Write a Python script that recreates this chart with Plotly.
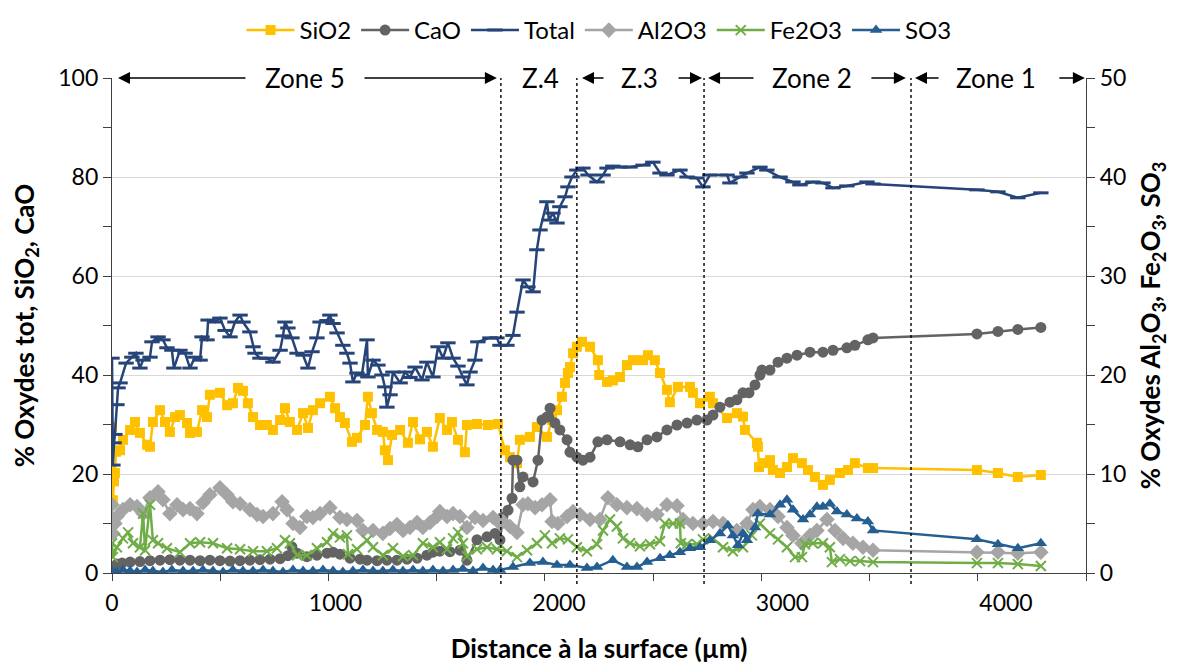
import plotly.graph_objects as go

# ---------------- data (x in µm) ----------------
total_x = [0,4,9,13,22,27,36,63,89,107,125,139,170,179,206,228,246,268,277,304,327,349,371,394,403,425,430,461,483,506,528,550,573,586,617,631,640,662,693,720,752,765,774,787,805,828,855,877,895,917,931,962,975,989,1007,1033,1051,1065,1078,1096,1118,1141,1145,1168,1190,1208,1221,1230,1244,1257,1289,1311,1333,1356,1387,1409,1436,1459,1481,1503,1526,1548,1570,1588,1602,1624,1637,1691,1722,1736,1767,1794,1812,1839,1861,1884,1901,1915,1946,1955,1973,1991,2004,2027,2040,2058,2080,2107,2130,2170,2197,2215,2241,2273,2318,2376,2420,2452,2483,2541,2573,2617,2644,2675,2752,2765,2810,2841,2899,2930,2989,3047,3078,3136,3181,3226,3288,3378,3405,3870,3964,4053,4156]
total_y = [43.4,21.8,26.3,28,34,37.4,38.4,42.4,43.6,44.4,41.4,43,43.6,46.7,47.7,47.1,45.5,45,41.4,45,44.4,41.4,43.6,43,47.7,47.1,51.1,50.7,51.5,49,47.7,50.7,52.1,50.7,48.7,45.7,44.4,43.4,43.4,42.6,45,47.9,50.7,49.5,47.5,44.4,44,41.4,44.7,47.5,50.7,51,52.1,50.4,48.5,46,44.4,42.4,38.6,40.4,40,47.1,39.6,43,42,40,37.6,33.5,36,40.6,38.4,40.6,39.5,41.6,39,42.6,39.6,45.7,43.4,46.5,43.4,41.8,39.6,38,40.6,43,46.7,47.5,47.5,46,46,48,52.7,59.2,57.8,56.8,65.3,69.3,75,71.3,72.7,70.7,74,76,78,80,81.4,81.8,80.4,79,80.4,81.8,82.2,82,82,82.4,83,80.8,80.4,81.4,80,79.8,78,80.4,80.4,78.8,80,80.8,82,81.4,80,79,78.4,79,78.8,77.8,78.2,79,78.6,77.4,77,75.8,76.8]

sio2_x = [0,4,9,13,18,36,49,81,103,125,157,170,183,215,237,259,282,304,336,349,380,403,425,438,483,515,541,564,586,608,631,662,693,720,752,774,796,828,855,877,899,931,975,998,1020,1042,1074,1096,1132,1145,1163,1186,1212,1221,1235,1253,1289,1324,1347,1378,1409,1436,1467,1499,1521,1548,1579,1588,1633,1682,1727,1758,1781,1812,1825,1870,1901,1946,1969,1991,2013,2027,2040,2049,2063,2080,2103,2139,2174,2180,2215,2241,2273,2304,2331,2376,2398,2429,2452,2483,2496,2532,2586,2599,2631,2675,2689,2752,2796,2823,2832,2886,2890,2895,2913,2944,2957,2989,3020,3047,3087,3114,3145,3181,3212,3257,3293,3324,3382,3405,3870,3964,4053,4156]
sio2_y = [29.5,14.7,18.5,20.2,24.5,24.8,26.9,28.9,30.5,28.3,25.9,25.5,30.5,32.9,30.5,28.5,31.5,31.9,30.3,28.3,28.5,32.9,31.5,36,36.4,33.9,34.3,37.4,36.8,34.3,31.5,29.9,29.9,28.9,30.9,33.3,30.5,28.9,32.3,29.3,32.9,34.3,35.6,33.3,31.5,30.3,26.5,27.3,29.9,35.6,32.3,28.9,28.5,24.8,22.8,27.9,28.9,26.3,30.5,27,28.5,25.5,31.3,28.9,30.5,26.9,24.4,29.9,30.1,29.9,30.1,24.8,23.4,22.2,26.9,27.5,29.5,27.5,30.9,32.9,35.6,38.4,40.4,41.6,44.4,45.7,46.7,45.7,43,40,38.6,38.9,39.6,42,43,43,44,43,40.4,37,34.5,37.6,37.6,36.4,34.3,35.6,34.3,31.3,32.3,31.6,28.9,26.3,25.5,21.4,22.2,22.8,20.8,20.2,21.4,23.2,22.2,20.8,19.4,17.8,18.8,20.2,20.8,22.2,21.2,21.2,20.8,20.2,19.4,19.8]

cao_x = [0,22,45,81,125,170,215,259,304,349,394,438,483,528,573,617,662,707,752,787,805,828,872,917,962,989,1020,1065,1110,1141,1186,1230,1275,1320,1365,1409,1436,1467,1512,1557,1588,1633,1678,1714,1736,1749,1772,1790,1794,1812,1825,1839,1884,1906,1924,1946,1960,1982,2004,2036,2049,2080,2107,2139,2174,2215,2273,2318,2353,2394,2438,2483,2528,2573,2617,2662,2689,2720,2765,2796,2823,2850,2877,2899,2908,2944,2980,3020,3065,3123,3181,3226,3288,3324,3382,3405,3870,3964,4053,4156]
cao_y = [1.0,1.8,2.0,2.2,2.3,2.5,2.6,2.7,2.6,2.6,2.5,2.6,2.5,2.4,2.5,2.6,2.7,2.8,2.9,3.5,5.3,4.0,3.3,3.6,4.0,4.2,3.8,3.0,2.8,2.6,2.5,2.6,2.6,2.8,3.0,3.6,4.2,4.4,4.3,4.6,2.6,6.7,7.3,8.0,6.7,11.3,12.7,15.1,22.8,22.8,17.4,19.4,18.4,22.8,30.9,31.5,33.3,30.3,28.9,26.9,24.4,23.4,22.8,23.4,26.5,26.9,26.5,25.9,25.5,26.9,27.5,28.9,29.9,30.3,30.9,30.9,31.9,33.5,34.5,35,36.4,36.4,38,40,41,41,42.6,43.4,44,44.6,44.6,45,45.5,46,47.1,47.5,48.3,48.8,49.2,49.6]

al2o3_x = [0,4,13,22,49,81,112,139,170,206,228,259,291,318,349,380,407,438,483,515,541,573,617,649,676,720,761,783,810,841,872,899,931,975,1020,1051,1096,1123,1168,1212,1244,1275,1302,1333,1365,1391,1423,1454,1467,1499,1526,1557,1588,1624,1660,1705,1736,1749,1781,1812,1839,1861,1893,1924,1960,1969,1995,2036,2063,2094,2139,2183,2219,2259,2304,2349,2394,2438,2483,2528,2555,2599,2644,2689,2734,2796,2841,2868,2899,2944,2980,3020,3047,3087,3123,3154,3199,3235,3271,3315,3360,3405,3870,3964,4053,4156]
al2o3_y = [6.9,4.0,5.0,5.7,6.4,6.9,6.7,6.0,7.6,8.2,7.4,6.0,6.9,6.4,6.5,6.0,7.1,7.9,8.6,7.9,7.2,7.0,6.4,5.9,5.7,6.0,7.2,6.4,5.0,4.6,5.7,5.6,6.0,6.6,5.6,5.4,5.3,4.3,4.3,4.0,4.5,4.9,4.3,4.6,5.1,4.6,5.1,5.7,6.2,5.7,6.0,5.7,4.6,5.6,5.3,5.6,5.0,5.2,4.7,4.1,6.9,7.0,6.6,6.9,7.4,5.2,5.0,5.7,6.2,5.9,5.4,5.4,7.6,6.9,6.6,6.5,5.9,5.9,6.9,6.8,5.4,5.0,5.0,5.2,5.0,4.3,5.0,6.4,6.7,6.4,5.7,4.6,3.8,3.0,3.8,4.3,5.4,4.3,3.5,3.0,2.6,2.3,2.1,2.1,2.0,2.1]

fe2o3_x = [0,4,22,49,72,94,125,139,148,170,183,206,246,304,349,394,452,515,573,631,693,738,774,796,828,872,917,962,989,1020,1051,1056,1096,1141,1168,1212,1257,1302,1347,1391,1436,1467,1499,1526,1548,1570,1588,1633,1678,1722,1767,1812,1857,1901,1937,1969,2004,2040,2080,2125,2170,2197,2228,2259,2286,2318,2362,2407,2452,2474,2510,2541,2545,2573,2617,2644,2689,2734,2778,2823,2863,2899,2944,2980,3020,3056,3087,3100,3136,3181,3212,3221,3257,3302,3347,3405,3870,3964,4053,4156]
fe2o3_y = [3.0,1.6,2.6,3.5,4.1,3.0,2.6,6.0,2.3,6.9,3.3,3.0,2.5,2.1,3.0,3.1,3.0,2.5,2.4,2.2,2.2,2.5,3.3,3.0,1.8,1.8,2.5,3.1,4.0,3.6,3.8,1.9,2.4,3.3,2.6,1.8,2.5,1.7,1.8,3.0,2.6,3.1,2.4,3.5,4.1,3.0,1.7,2.4,2.6,2.4,2.2,1.6,2.3,3.0,3.8,3.0,3.5,3.4,2.6,2.2,2.9,4.3,5.4,4.7,3.5,3.0,2.7,2.9,3.2,5.0,5.0,5.0,3.0,2.9,2.9,3.4,3.5,2.6,2.2,2.6,3.8,5.0,4.0,3.4,2.6,1.6,1.6,2.9,3.0,3.0,2.6,1.1,1.4,1.2,1.2,1.1,1.0,1.0,0.9,0.7]

so3_x = [0,22,49,81,112,148,183,228,268,318,363,407,452,497,541,586,631,676,720,765,810,855,899,944,989,1033,1078,1123,1168,1212,1257,1302,1347,1391,1436,1481,1526,1570,1615,1660,1705,1736,1794,1870,1928,1991,2049,2125,2170,2241,2304,2349,2394,2452,2496,2541,2586,2631,2675,2720,2756,2778,2801,2823,2841,2877,2890,2944,2989,3020,3047,3092,3123,3154,3181,3212,3244,3288,3333,3382,3405,3870,3964,4053,4156]
so3_y = [0.2,0.1,0.3,0.2,0.1,0.3,0.2,0.1,0.3,0.2,0.2,0.3,0.2,0.1,0.3,0.2,0.2,0.3,0.2,0.1,0.3,0.2,0.2,0.3,0.2,0.1,0.2,0.3,0.2,0.2,0.3,0.2,0.3,0.2,0.3,0.2,0.3,0.4,0.2,0.5,0.3,0.3,0.6,1.0,1.1,0.8,0.8,0.5,0.6,1.3,0.6,0.6,1.1,1.5,1.8,2.1,2.5,2.6,3.3,4.0,4.8,3.8,2.8,4.0,3.3,4.6,6.0,5.9,6.9,7.4,6.4,5.4,5.9,6.7,6.7,7.0,6.2,5.9,5.5,5.2,4.3,3.4,2.9,2.5,3.0]

zone_names = ["Zone 5", "Z.4", "Z.3", "Zone 2", "Zone 1"]
zone_centers = [864, 1915, 2362, 3132, 3955]
zone_bounds = [1740, 2080, 2649, 3575]
# arrows: (tail, head)
zone_arrows = [(604, 27), (1123, 1722), (2206, 2103), (2528, 2640),
               (2877, 2667), (3391, 3552), (3705, 3593), (4232, 4353)]

x_ticks = [0, 1000, 2000, 3000, 4000]

# ---------------- figure ----------------
FONT = "Lato"
AX = "#404040"
fig = go.Figure()

fig.add_trace(go.Scatter(x=sio2_x, y=sio2_y, name="SiO2", mode="lines+markers",
                         line=dict(color="#FFC000", width=2.5),
                         marker=dict(symbol="square", size=10, color="#FFC000")))
fig.add_trace(go.Scatter(x=cao_x, y=cao_y, name="CaO", mode="lines+markers",
                         line=dict(color="#636363", width=2.5),
                         marker=dict(symbol="circle", size=11, color="#636363")))
fig.add_trace(go.Scatter(x=total_x, y=total_y, name="Total", mode="lines+markers",
                         line=dict(color="#264478", width=2.5),
                         marker=dict(symbol="line-ew", size=11, color="#264478",
                                     line=dict(width=3, color="#264478"))))
fig.add_trace(go.Scatter(x=al2o3_x, y=al2o3_y, name="Al2O3", mode="lines+markers", yaxis="y2",
                         line=dict(color="#A5A5A5", width=2.5),
                         marker=dict(symbol="diamond", size=12, color="#A5A5A5")))
fig.add_trace(go.Scatter(x=fe2o3_x, y=fe2o3_y, name="Fe2O3", mode="lines+markers", yaxis="y2",
                         line=dict(color="#70AD47", width=2.5),
                         marker=dict(symbol="x-thin", size=10, color="#70AD47",
                                     line=dict(width=2, color="#70AD47"))))
fig.add_trace(go.Scatter(x=so3_x, y=so3_y, name="SO3", mode="lines+markers", yaxis="y2",
                         line=dict(color="#255E91", width=2.5),
                         marker=dict(symbol="triangle-up", size=11, color="#255E91")))
# helper trace for the secondary (tick-mark) x axis
fig.add_trace(go.Scatter(x=[None], y=[None], xaxis="x2", showlegend=False,
                         hoverinfo="skip", mode="markers"))

shapes = []
for b in zone_bounds:
    shapes.append(dict(type="line", xref="x", yref="paper", x0=b, x1=b, y0=-0.022, y1=1.0,
                       line=dict(color="black", width=1.4, dash="3px,3px")))

annotations = []
for name, cx in zip(zone_names, zone_centers):
    annotations.append(dict(x=cx, y=100, xref="x", yref="y", text=name, showarrow=False,
                            font=dict(family=FONT, size=26, color="black")))
for tail, head in zone_arrows:
    annotations.append(dict(x=head, y=100, xref="x", yref="y", ax=tail, ay=100,
                            axref="x", ayref="y", text="", showarrow=True,
                            arrowhead=2, arrowsize=1.6, arrowwidth=1.5,
                            arrowcolor="black", standoff=0))

# page body adds an 8px offset; figure is sized/margined to compensate
fig.update_layout(
    width=1178, height=656,
    paper_bgcolor="white", plot_bgcolor="white",
    margin=dict(l=104, r=100, t=70, b=91),
    font=dict(family=FONT, size=23, color="black"),
    showlegend=True,
    legend=dict(orientation="h", x=0.5, xanchor="center", yref="container",
                y=1.0, yanchor="top", font=dict(size=24), itemwidth=48,
                bgcolor="rgba(0,0,0,0)"),
    xaxis=dict(range=[0, 4358], tickvals=x_ticks, ticks="", showgrid=False, zeroline=False,
               showline=True, linecolor=AX, linewidth=1.3, automargin=False,
               ticklabelstandoff=9,
               title=dict(text="<b>Distance à la surface (µm)</b>", standoff=26,
                          font=dict(size=26))),
    xaxis2=dict(overlaying="x", anchor="y", side="bottom", range=[0, 4500], dtick=500, tick0=0,
                ticks="outside", ticklen=7, tickcolor=AX, tickwidth=1.3,
                showticklabels=False, showgrid=False, zeroline=False, showline=False),
    yaxis=dict(range=[0, 100], dtick=20, showgrid=True, gridcolor="#D9D9D9", gridwidth=1.3,
               zeroline=False, showline=True, linecolor=AX, linewidth=1.3, automargin=False,
               ticks="outside", ticklen=8, tickcolor=AX,
               minor=dict(dtick=10, ticks="outside", ticklen=8, tickcolor=AX, showgrid=False),
               title=dict(text="<b>% Oxydes tot, SiO<sub>2</sub>, CaO</b>", standoff=20,
                          font=dict(size=26))),
    yaxis2=dict(range=[0, 50], dtick=10, overlaying="y", side="right", showgrid=False,
                zeroline=False, showline=True, linecolor=AX, linewidth=1.3, automargin=False,
                ticks="outside", ticklen=8, tickcolor=AX,
                minor=dict(dtick=5, ticks="outside", ticklen=8, tickcolor=AX, showgrid=False),
                title=dict(text="<b>% Oxydes Al<sub>2</sub>O<sub>3</sub>, Fe<sub>2</sub>O<sub>3</sub>, SO<sub>3</sub></b>",
                           standoff=16, font=dict(size=26))),
    shapes=shapes,
    annotations=annotations,
)

fig.write_html("out.html")
